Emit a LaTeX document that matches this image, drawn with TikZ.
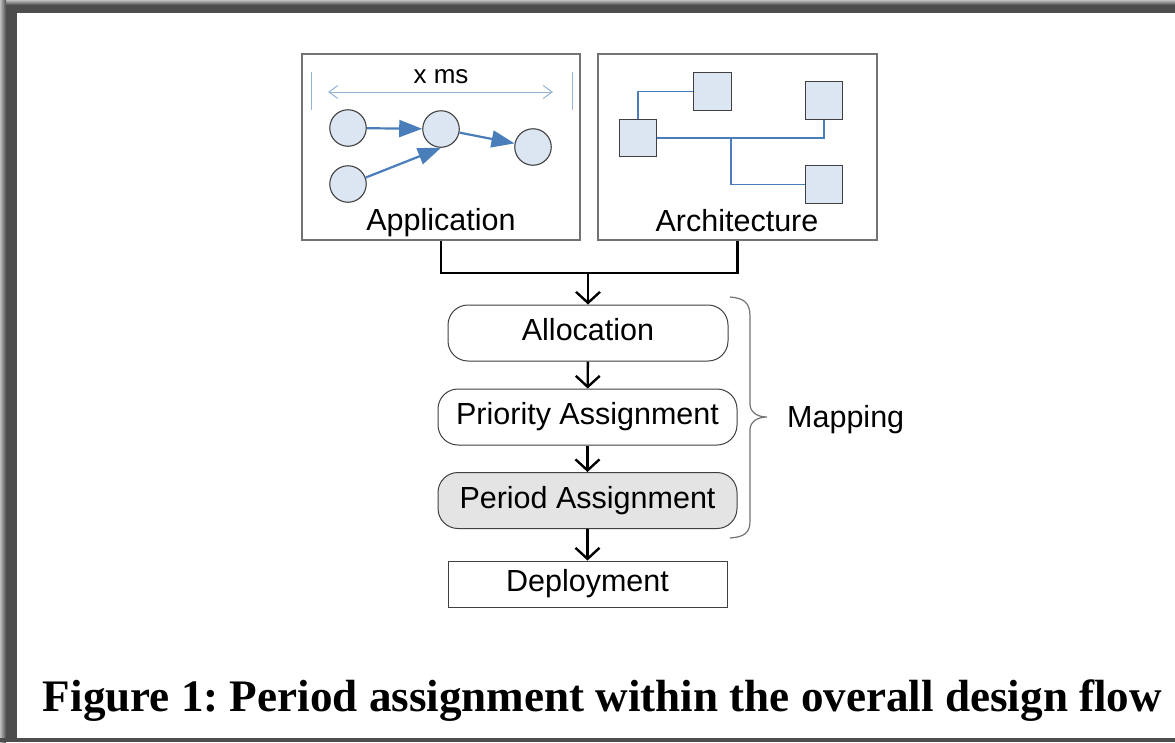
\documentclass[tikz,border=0pt]{standalone}
\usepackage{graphicx}
\usepackage{fontspec}
\setmainfont{Liberation Sans}
\newfontfamily\capfont{Liberation Serif}
\usetikzlibrary{arrows.meta}
\definecolor{nodefill}{HTML}{DCE6F2}
\definecolor{edgeblue}{HTML}{4A7EBB}
\definecolor{spanblue}{HTML}{95B3D7}
\definecolor{outline}{HTML}{404040}
\definecolor{framegray}{HTML}{4D4D4D}
\definecolor{stepgray}{HTML}{E4E4E4}
\frenchspacing
\begin{document}
\begin{tikzpicture}[x=1pt,y=-1pt,
  lbl/.style={font=\fontsize{30.5}{36}\selectfont, text height=22pt, text depth=6.5pt},
  panel/.style={draw=black!55, line width=1.4pt, minimum height=186pt},
  task/.style={circle, draw=outline, fill=nodefill, line width=1.1pt, minimum size=36.5pt, inner sep=0pt},
  proc/.style={rectangle, draw=outline, fill=nodefill, line width=1.1pt, minimum size=37.5pt, inner sep=0pt},
  dep/.style={draw=edgeblue, line width=2.2pt, -{Triangle[length=23pt,width=17pt]}},
  bus/.style={draw=edgeblue, line width=1.6pt},
  span/.style={draw=spanblue, line width=1pt},
  stepbox/.style={draw=outline, line width=1pt, rounded corners=20pt, minimum height=56pt, inner sep=0pt, lbl},
  flow/.style={line width=2.4pt, -{Straight Barb[length=11pt,width=24pt]}},
  merger/.style={line width=2.9pt},
]
\useasboundingbox (0,0) rectangle (1175,742);
\fill[white] (0,0) rectangle (1175,742);

% window frame
\shade[top color=black!25, bottom color=framegray] (0,0) rectangle (1175,5);
\fill[framegray] (0,5) rectangle (1175,13);
\shade[left color=black!25, right color=framegray] (0,0) rectangle (6,742);
\fill[framegray] (6,5) rectangle (17,742);
\fill[framegray] (0,738) rectangle (1175,742);

% input panels
\node[panel, minimum width=278pt] (app) at (441,147) {};
\node[panel, minimum width=279pt] (arch) at (737.5,147) {};
\node[lbl, anchor=base] (applbl) at (441,230) {Application};
\node[lbl, anchor=base] (archlbl) at (737,231) {Architecture};

% application: task graph with period span
\coordinate (barLt) at (311,72);
\coordinate (barLb) at (311,110);
\coordinate (barRt) at (572,72);
\coordinate (barRb) at (572,110);
\draw[span] (barLt) -- (barLb);
\draw[span] (barRt) -- (barRb);
\coordinate (spanL) at (328,92);
\coordinate (spanR) at (553,92);
\draw[span, {Straight Barb[length=9pt,width=13pt]}-{Straight Barb[length=9pt,width=13pt]}] (spanL) -- (spanR);
\node[font=\fontsize{26}{31}\selectfont, anchor=base] (period) at (441,83) {x ms};

\node[task] (c1) at (348,128) {};
\node[task] (c2) at (441,129) {};
\node[task] (c3) at (533,147) {};
\node[task] (c4) at (348,184) {};
\draw[dep] (c1) -- (c2);
\draw[dep] (c4.20) -- (c2.south);
\draw[dep] (c2) -- (c3);

% architecture: processors on a bus
\node[proc] (s1) at (638,138) {};
\node[proc] (s2) at (712.5,91.5) {};
\node[proc] (s3) at (824,100.5) {};
\node[proc] (s4) at (824,184.5) {};
\draw[bus] (s1.north) |- (s2.west);
\draw[bus] (s1.east) -| (s3.south);
\coordinate (tap) at (731,138);
\draw[bus] (tap) |- (s4.west);

% design flow
\node[stepbox, minimum width=280pt] (alloc) at (588,333) {Allocation};
\node[stepbox, minimum width=299pt] (prio) at (587.5,417) {Priority Assignment};
\node[stepbox, minimum width=299pt, fill=stepgray] (per) at (587.5,500.5) {Period Assignment};
\node[draw=outline, line width=1pt, minimum width=279pt, minimum height=46pt, inner sep=0pt, lbl] (deploy) at (587.5,584) {Deployment};

\coordinate (merge) at (588,273);
\draw[merger] (app.south) -- (app.south |- merge) -- (arch.south |- merge) -- (arch.south);
\draw[flow] (merge) -- (alloc.north);
\draw[flow] (alloc) -- (prio);
\draw[flow] (prio) -- (per);
\draw[flow] (per) -- (deploy);

% mapping brace
\draw[black!55, line width=1.2pt]
  (730,297) .. controls (744,298) and (750,303) .. (750,316) -- (750,404)
  .. controls (750,412) and (757,417) .. (767,417)
  .. controls (757,417) and (750,422) .. (750,430) -- (750,521)
  .. controls (750,533) and (744,537) .. (730,538);
\node[lbl, anchor=base west, inner sep=0pt] (mapping) at (787,427) {Mapping};

% caption
\node[anchor=base, inner sep=0pt] (caption) at (602.5,711)
  {\resizebox{1119pt}{!}{\capfont\bfseries Figure 1: Period assignment within the overall design flow}};
\end{tikzpicture}
\end{document}
